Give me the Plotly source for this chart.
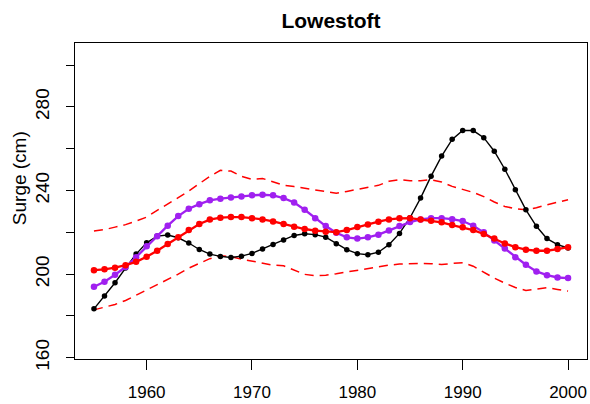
import plotly.graph_objects as go

# Annual surge levels at Lowestoft (cm), 1955-2000
years = list(range(1955, 2001))

observed = [183.4, 189.5, 195.9, 202.9, 209.6, 215.0, 218.2, 218.7, 217.4, 214.9,
            211.8, 209.6, 208.5, 208.0, 208.6, 209.9, 212.0, 214.2, 216.3, 218.5,
            219.3, 218.9, 217.7, 214.6, 211.7, 209.8, 209.3, 210.5, 214.1, 219.5,
            227.0, 236.4, 246.9, 256.5, 264.5, 268.7, 268.7, 265.3, 258.8, 250.2,
            240.4, 230.8, 222.9, 217.0, 214.1, 212.5]

smooth_purple = [194.0, 196.4, 199.7, 203.4, 208.1, 213.3, 218.1, 223.2, 227.8, 231.3,
                 233.5, 235.3, 236.1, 236.7, 237.2, 237.7, 238.0, 237.7, 236.4, 234.3,
                 230.8, 226.8, 223.0, 219.8, 217.6, 217.0, 217.6, 218.9, 220.9, 223.0,
                 224.9, 226.2, 226.8, 226.8, 226.3, 225.4, 223.2, 220.0, 216.1, 212.3,
                 208.1, 204.5, 201.3, 199.5, 198.4, 198.1]

smooth_red = [201.9, 202.3, 203.1, 204.3, 205.9, 208.3, 211.2, 214.4, 217.7, 221.1,
              224.0, 226.1, 227.0, 227.3, 227.3, 226.8, 226.2, 225.2, 224.0, 222.7,
              221.6, 220.8, 220.3, 220.1, 221.1, 222.5, 223.8, 225.1, 226.2, 226.7,
              226.8, 226.2, 225.6, 224.8, 223.5, 222.4, 221.1, 219.2, 217.0, 214.7,
              212.9, 211.7, 211.2, 211.2, 212.0, 212.9]

upper_band = [220.6, 221.3, 222.5, 223.7, 225.4, 227.3, 230.5, 233.4, 236.6, 239.8,
              243.3, 246.8, 249.7, 249.3, 246.8, 245.4, 245.8, 244.3, 242.6, 241.9,
              241.1, 240.1, 239.6, 238.7, 239.6, 240.6, 241.4, 242.5, 244.4, 245.2,
              244.7, 244.7, 245.2, 244.1, 242.0, 240.7, 239.1, 237.1, 234.5, 232.4,
              231.3, 230.8, 231.8, 233.2, 234.5, 235.6]

lower_band = [182.9, 184.2, 185.5, 187.4, 189.9, 192.5, 194.9, 197.3, 200.0, 202.9,
              205.3, 207.4, 208.8, 208.3, 207.2, 206.2, 205.1, 204.3, 204.0, 202.1,
              199.9, 199.2, 199.5, 200.2, 201.0, 201.9, 202.9, 203.7, 204.3, 204.8,
              205.1, 205.1, 205.0, 204.6, 205.1, 205.5, 203.8, 200.8, 198.1, 195.7,
              193.6, 192.2, 192.8, 193.5, 192.7, 191.9]

y_ticks = [160, 180, 200, 220, 240, 260, 280, 300]
y_tick_text = ["160", "", "200", "", "240", "", "280", ""]
x_ticks = [1960, 1970, 1980, 1990, 2000]

FONT = "Liberation Sans, Arial, Helvetica, sans-serif"
RED = "#FF0000"
PURPLE = "#A020F0"

fig = go.Figure()

for band in (upper_band, lower_band):
    fig.add_trace(go.Scatter(x=years, y=band, mode="lines",
                             line=dict(color=RED, width=1.5, dash="9px,6px"),
                             hoverinfo="skip"))

fig.add_trace(go.Scatter(x=years, y=observed, mode="lines+markers",
                         line=dict(color="black", width=1.4),
                         marker=dict(color="black", size=5.5)))
fig.add_trace(go.Scatter(x=years, y=smooth_purple, mode="lines+markers",
                         line=dict(color=PURPLE, width=2.3),
                         marker=dict(color=PURPLE, size=6.5)))
fig.add_trace(go.Scatter(x=years, y=smooth_red, mode="lines+markers",
                         line=dict(color=RED, width=2.3),
                         marker=dict(color=RED, size=6.5)))

fig.update_layout(
    width=590, height=404,
    margin=dict(l=75, r=3, t=43, b=45),
    paper_bgcolor="white", plot_bgcolor="white",
    showlegend=False,
    font=dict(family=FONT, color="black"),
    title=dict(text="<b>Lowestoft</b>", x=331 / 590, xanchor="center",
               y=1 - 21 / 404, yanchor="middle", yref="container",
               font=dict(size=21, family=FONT, color="black")),
    xaxis=dict(range=[1953.2, 2001.8], tickvals=x_ticks, ticks="outside",
               ticklen=10, tickwidth=1, tickcolor="black",
               showgrid=False, zeroline=False,
               showline=True, linecolor="black", linewidth=1, mirror=True,
               tickfont=dict(size=17, family=FONT, color="black"),
               ticklabelstandoff=8),
    yaxis=dict(range=[159.4, 310.6], tickvals=y_ticks, ticktext=y_tick_text,
               ticks="outside", ticklen=8.5, tickwidth=1, tickcolor="black",
               tickangle=-90,
               showgrid=False, zeroline=False,
               showline=True, linecolor="black", linewidth=1, mirror=True,
               tickfont=dict(size=19, family=FONT, color="black"),
               ticklabelstandoff=9),
    annotations=[dict(text="Surge (cm)", textangle=-90, xref="paper", yref="paper",
                      x=-0.1095, y=0.572, xanchor="center", yanchor="middle",
                      showarrow=False, font=dict(size=19, family=FONT, color="black"))],
)

fig.write_html("out.html")
